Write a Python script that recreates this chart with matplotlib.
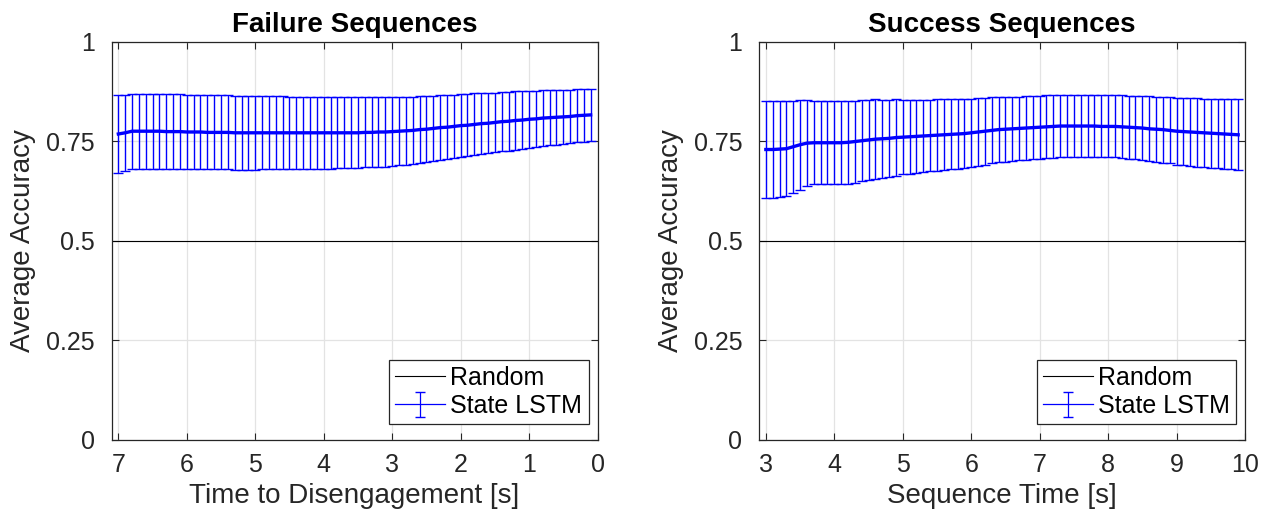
import numpy as np
import matplotlib
matplotlib.use("Agg")
import matplotlib.pyplot as plt
from matplotlib.container import ErrorbarContainer
from matplotlib.legend_handler import HandlerErrorbar

plt.rcParams['font.family'] = ['Liberation Sans', 'DejaVu Sans']

# ---- data ----
fail_time = [7.0, 6.9, 6.8, 6.7, 6.6, 6.5, 6.4, 6.3, 6.2, 6.1,
             6.0, 5.9, 5.8, 5.7, 5.6, 5.5, 5.4, 5.3, 5.2, 5.1,
             5.0, 4.9, 4.8, 4.7, 4.6, 4.5, 4.4, 4.3, 4.2, 4.1,
             4.0, 3.9, 3.8, 3.7, 3.6, 3.5, 3.4, 3.3, 3.2, 3.1,
             3.0, 2.9, 2.8, 2.7, 2.6, 2.5, 2.4, 2.3, 2.2, 2.1,
             2.0, 1.9, 1.8, 1.7, 1.6, 1.5, 1.4, 1.3, 1.2, 1.1,
             1.0, 0.9, 0.8, 0.7, 0.6, 0.5, 0.4, 0.3, 0.2, 0.1]
fail_mean = [0.768, 0.771, 0.775, 0.775, 0.775, 0.775, 0.775, 0.774, 0.774, 0.774,
             0.773, 0.773, 0.773, 0.772, 0.772, 0.772, 0.772, 0.771, 0.771, 0.771,
             0.771, 0.771, 0.771, 0.771, 0.771, 0.771, 0.771, 0.771, 0.771, 0.771,
             0.771, 0.771, 0.771, 0.771, 0.771, 0.771, 0.772, 0.772, 0.773, 0.773,
             0.774, 0.775, 0.776, 0.777, 0.779, 0.780, 0.782, 0.784, 0.785, 0.787,
             0.789, 0.790, 0.792, 0.794, 0.795, 0.797, 0.799, 0.800, 0.802, 0.803,
             0.805, 0.806, 0.808, 0.809, 0.810, 0.811, 0.812, 0.814, 0.815, 0.816]
fail_std = [0.099, 0.096, 0.094, 0.094, 0.094, 0.094, 0.094, 0.094, 0.094, 0.094,
            0.093, 0.093, 0.093, 0.093, 0.093, 0.093, 0.093, 0.093, 0.093, 0.093,
            0.093, 0.092, 0.092, 0.092, 0.092, 0.091, 0.091, 0.091, 0.090, 0.090,
            0.090, 0.090, 0.089, 0.089, 0.089, 0.089, 0.088, 0.088, 0.088, 0.087,
            0.087, 0.086, 0.085, 0.085, 0.084, 0.083, 0.082, 0.081, 0.081, 0.080,
            0.079, 0.078, 0.078, 0.077, 0.076, 0.075, 0.075, 0.074, 0.073, 0.072,
            0.071, 0.071, 0.070, 0.069, 0.069, 0.068, 0.067, 0.067, 0.066, 0.065]

succ_time = [3.0, 3.1, 3.2, 3.3, 3.4, 3.5, 3.6, 3.7, 3.8, 3.9,
             4.0, 4.1, 4.2, 4.3, 4.4, 4.5, 4.6, 4.7, 4.8, 4.9,
             5.0, 5.1, 5.2, 5.3, 5.4, 5.5, 5.6, 5.7, 5.8, 5.9,
             6.0, 6.1, 6.2, 6.3, 6.4, 6.5, 6.6, 6.7, 6.8, 6.9,
             7.0, 7.1, 7.2, 7.3, 7.4, 7.5, 7.6, 7.7, 7.8, 7.9,
             8.0, 8.1, 8.2, 8.3, 8.4, 8.5, 8.6, 8.7, 8.8, 8.9,
             9.0, 9.1, 9.2, 9.3, 9.4, 9.5, 9.6, 9.7, 9.8, 9.9]
succ_mean = [0.729, 0.729, 0.730, 0.731, 0.736, 0.741, 0.745, 0.746, 0.746, 0.746,
             0.746, 0.746, 0.747, 0.749, 0.751, 0.753, 0.755, 0.756, 0.757, 0.759,
             0.760, 0.761, 0.762, 0.763, 0.764, 0.765, 0.766, 0.767, 0.768, 0.769,
             0.771, 0.773, 0.775, 0.777, 0.779, 0.780, 0.781, 0.782, 0.783, 0.784,
             0.785, 0.786, 0.787, 0.788, 0.788, 0.788, 0.788, 0.788, 0.788, 0.787,
             0.787, 0.787, 0.786, 0.785, 0.784, 0.783, 0.781, 0.780, 0.779, 0.777,
             0.775, 0.774, 0.773, 0.772, 0.771, 0.770, 0.769, 0.768, 0.767, 0.766]
succ_std = [0.121, 0.121, 0.120, 0.119, 0.116, 0.113, 0.108, 0.104, 0.104, 0.104,
            0.104, 0.104, 0.104, 0.103, 0.102, 0.101, 0.100, 0.098, 0.097, 0.096,
            0.093, 0.093, 0.092, 0.091, 0.090, 0.090, 0.089, 0.088, 0.087, 0.087,
            0.086, 0.085, 0.084, 0.083, 0.082, 0.082, 0.081, 0.080, 0.080, 0.079,
            0.079, 0.079, 0.079, 0.079, 0.079, 0.079, 0.079, 0.078, 0.078, 0.078,
            0.078, 0.078, 0.079, 0.079, 0.080, 0.081, 0.082, 0.082, 0.083, 0.083,
            0.084, 0.085, 0.085, 0.086, 0.086, 0.087, 0.087, 0.088, 0.088, 0.089]

random_level = 0.5
y_ticks = [0, 0.25, 0.5, 0.75, 1]
y_ticklabels = ['0', '0.25', '0.5', '0.75', '1']

panels = [
    dict(title='Failure Sequences', xlabel='Time to Disengagement [s]',
         x=fail_time, m=fail_mean, s=fail_std, xlim=(7.1, 0.0),
         xticks=[7, 6, 5, 4, 3, 2, 1, 0]),
    dict(title='Success Sequences', xlabel='Sequence Time [s]',
         x=succ_time, m=succ_mean, s=succ_std, xlim=(2.9, 10.0),
         xticks=[3, 4, 5, 6, 7, 8, 9, 10]),
]

W, H = 1273, 519
fig = plt.figure(figsize=(W / 100, H / 100), dpi=100)
ax_w = 486 / W
ax_h = (439.5 - 41.7) / H
ax_b = 1 - 439.5 / H
axes_rects = [[111.5 / W, ax_b, ax_w, ax_h], [759 / W, ax_b, ax_w, ax_h]]

dark = '#262626'


def thin(legend_handle, orig_handle):
    legend_handle.update_from(orig_handle)
    try:
        legend_handle.set_linewidth(0.9)
    except Exception:
        pass


for rect, p in zip(axes_rects, panels):
    ax = fig.add_axes(rect)
    x = np.array(p['x'])
    ax.plot(p['xlim'], [random_level, random_level], color='black', lw=0.8,
            label='Random', zorder=2)
    ax.errorbar(x, p['m'], yerr=p['s'], color=(0, 0, 1), lw=2.4,
                elinewidth=1.0, capsize=3.3, capthick=1.0,
                label='State LSTM', zorder=3)
    ax.set_xlim(p['xlim'])
    ax.set_ylim(0, 1)
    ax.set_xticks(p['xticks'])
    ax.set_xticklabels([str(t) for t in p['xticks']])
    ax.set_yticks(y_ticks)
    ax.set_yticklabels(y_ticklabels)
    ax.grid(True, color='#e3e3e3', lw=0.9)
    ax.set_axisbelow(True)
    ax.tick_params(direction='in', top=True, right=True, length=5,
                   labelsize=18, colors=dark, width=0.8)
    ax.tick_params(axis='x', pad=10)
    ax.tick_params(axis='y', pad=12)
    for sp in ax.spines.values():
        sp.set_color(dark)
        sp.set_linewidth(0.9)
    ax.set_title(p['title'], fontsize=20, fontweight='bold', color='black', pad=7)
    ax.set_xlabel(p['xlabel'], fontsize=20, color=dark, labelpad=4)
    ax.set_ylabel('Average Accuracy', fontsize=20, color=dark, labelpad=7)
    h, l = ax.get_legend_handles_labels()
    leg = ax.legend(h, l, loc='lower right', bbox_to_anchor=(1 - 9 / 486, 15.5 / 398),
                    fontsize=18, frameon=True, fancybox=False, edgecolor=dark,
                    framealpha=1, handlelength=2.0, handletextpad=0.2,
                    borderpad=0.25, labelspacing=0.15, borderaxespad=0.0,
                    handler_map={ErrorbarContainer: HandlerErrorbar(update_func=thin)})
    leg.get_frame().set_linewidth(0.9)

fig.savefig('out.png', dpi=100)
